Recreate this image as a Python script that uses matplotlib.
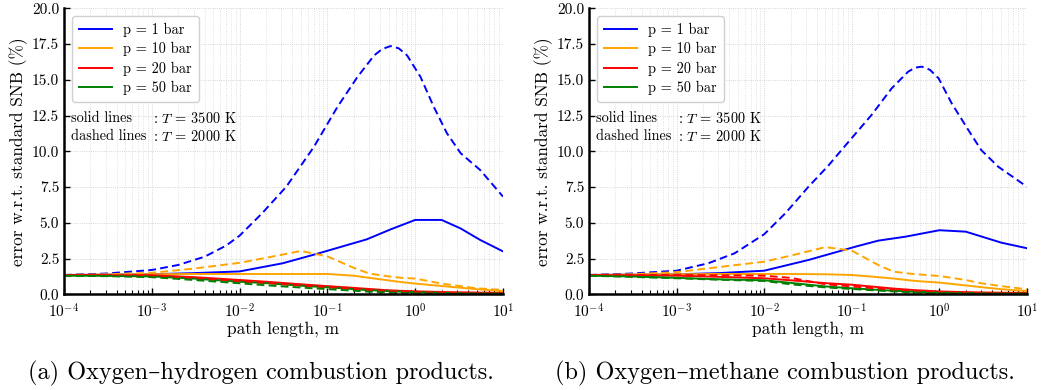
import numpy as np
import matplotlib
matplotlib.use("Agg")
from matplotlib import pyplot as plt
from matplotlib.ticker import LogLocator, MultipleLocator, FormatStrFormatter

plt.rcParams['font.family'] = ['cmr10', 'DejaVu Serif']
plt.rcParams['mathtext.fontset'] = 'cm'
plt.rcParams['axes.formatter.use_mathtext'] = True
plt.rcParams['axes.unicode_minus'] = False

# common path length grid (m)
L = [1e-4, 3e-4, 1e-3, 3e-3, 1e-2, 2e-2, 5e-2, 1e-1, 2e-1, 3e-1, 5e-1, 7e-1, 1, 2, 3, 5, 10]

pressures = ["p = 1 bar", "p = 10 bar", "p = 20 bar", "p = 50 bar"]
colors = ["blue", "orange", "red", "green"]

# ---- (a) oxygen-hydrogen ----
# p = 1 bar curves read on their own grids
h2_x_1bar_3500 = [1e-4, 1e-3, 3e-3, 1e-2, 3.1e-2, 7.5e-2, 0.28, 0.525, 1.0, 2.0, 3.3, 5.5, 10]
h2_y_1bar_3500 = [1.35, 1.4, 1.48, 1.6, 2.17, 2.82, 3.84, 4.54, 5.2, 5.2, 4.6, 3.8, 3.0]
h2_x_1bar_2000 = [1e-4, 3e-4, 1e-3, 2e-3, 4e-3, 7e-3, 1e-2, 1.8e-2, 3.4e-2, 7e-2, 0.13,
                  0.22, 0.34, 0.42, 0.525, 0.65, 0.81, 1.15, 1.63, 2.3, 3.3, 5.5, 10]
h2_y_1bar_2000 = [1.35, 1.45, 1.7, 2.05, 2.63, 3.4, 4.1, 5.66, 7.52, 10.3, 13.1,
                  15.2, 16.7, 17.15, 17.36, 17.2, 16.7, 15.2, 13.1, 11.26, 9.86, 8.69, 6.83]
# p = 10, 20, 50 bar on grid L, T = 3500 K (solid)
h2_3500 = [
    [1.35, 1.38, 1.4, 1.42, 1.42, 1.42, 1.42, 1.42, 1.3, 1.15, 0.97, 0.85, 0.75, 0.58, 0.48, 0.36, 0.23],
    [1.35, 1.35, 1.33, 1.2, 1.0, 0.88, 0.7, 0.57, 0.45, 0.37, 0.28, 0.24, 0.21, 0.16, 0.14, 0.12, 0.1],
    [1.3, 1.29, 1.25, 1.1, 0.88, 0.78, 0.6, 0.49, 0.36, 0.29, 0.22, 0.18, 0.15, 0.1, 0.08, 0.06, 0.05],
]
# p = 10, 20, 50 bar on grid L, T = 2000 K (dashed)
h2_2000 = [
    [1.35, 1.4, 1.5, 1.8, 2.2, 2.55, 3.03, 2.65, 1.85, 1.45, 1.25, 1.15, 1.1, 0.75, 0.6, 0.42, 0.3],
    [1.35, 1.34, 1.3, 1.15, 0.92, 0.8, 0.62, 0.5, 0.38, 0.3, 0.22, 0.18, 0.15, 0.1, 0.08, 0.06, 0.05],
    [1.3, 1.27, 1.2, 1.0, 0.77, 0.63, 0.47, 0.36, 0.25, 0.18, 0.12, 0.09, 0.07, 0.04, 0.03, 0.02, 0.02],
]

# ---- (b) oxygen-methane ----
ch4_x_1bar_3500 = [1e-4, 1e-3, 3e-3, 1e-2, 3.2e-2, 0.11, 0.2, 0.41, 1.0, 2.0, 5.1, 10]
ch4_y_1bar_3500 = [1.35, 1.4, 1.48, 1.65, 2.4, 3.33, 3.75, 4.03, 4.48, 4.38, 3.61, 3.22]
ch4_x_1bar_2000 = [1e-4, 3e-4, 1e-3, 2.3e-3, 4.6e-3, 1e-2, 1.74e-2, 3.2e-2, 5.4e-2, 8.3e-2, 0.168,
                   0.285, 0.44, 0.53, 0.63, 0.78, 0.98, 1.38, 2.14, 3.0, 4.7, 10]
ch4_y_1bar_2000 = [1.35, 1.45, 1.65, 2.17, 2.87, 4.2, 5.66, 7.52, 9.0, 10.35, 12.54,
                   14.4, 15.57, 15.85, 15.92, 15.7, 15.1, 13.36, 11.49, 10.09, 8.92, 7.52]
ch4_3500 = [
    [1.35, 1.38, 1.4, 1.42, 1.42, 1.42, 1.4, 1.35, 1.2, 1.1, 0.95, 0.88, 0.82, 0.62, 0.5, 0.36, 0.23],
    [1.35, 1.33, 1.3, 1.22, 1.12, 0.98, 0.78, 0.67, 0.5, 0.4, 0.3, 0.25, 0.2, 0.15, 0.13, 0.11, 0.1],
    [1.3, 1.25, 1.15, 1.05, 0.98, 0.8, 0.55, 0.42, 0.31, 0.25, 0.18, 0.15, 0.12, 0.09, 0.07, 0.06, 0.05],
]
ch4_2000 = [
    [1.35, 1.4, 1.55, 1.9, 2.28, 2.7, 3.3, 3.05, 2.05, 1.58, 1.42, 1.35, 1.28, 1.0, 0.77, 0.58, 0.35],
    [1.35, 1.35, 1.35, 1.33, 1.3, 1.15, 0.7, 0.55, 0.4, 0.3, 0.22, 0.18, 0.15, 0.1, 0.08, 0.06, 0.05],
    [1.3, 1.22, 1.12, 1.02, 0.93, 0.7, 0.48, 0.37, 0.26, 0.2, 0.13, 0.1, 0.08, 0.05, 0.03, 0.02, 0.02],
]

captions = ["(a) Oxygen\u2013hydrogen combustion products.",
            "(b) Oxygen\u2013methane combustion products."]

panels = [
    (h2_x_1bar_3500, h2_y_1bar_3500, h2_x_1bar_2000, h2_y_1bar_2000, h2_3500, h2_2000, captions[0]),
    (ch4_x_1bar_3500, ch4_y_1bar_3500, ch4_x_1bar_2000, ch4_y_1bar_2000, ch4_3500, ch4_2000, captions[1]),
]

fig = plt.figure(figsize=(10.44, 3.9), dpi=100)
ax1 = fig.add_axes([0.0613, 0.2454, 0.4205, 0.7333])
ax2 = fig.add_axes([0.5642, 0.2454, 0.4195, 0.7333])

dash = (0, (4, 2.2))
lw = 1.4
for ax, (xs, ys, xd, yd, solid, dashed, cap) in zip([ax1, ax2], panels):
    ax.plot(xs, ys, color=colors[0], lw=lw, label=pressures[0])
    for i in range(3):
        ax.plot(L, solid[i], color=colors[i + 1], lw=lw, label=pressures[i + 1])
    ax.plot(xd, yd, color=colors[0], lw=lw, ls=dash)
    for i in range(3):
        ax.plot(L, dashed[i], color=colors[i + 1], lw=lw, ls=dash)
    ax.set_xscale('log')
    ax.set_xlim(1e-4, 10)
    ax.set_ylim(0, 20)
    ax.yaxis.set_major_locator(MultipleLocator(2.5))
    ax.yaxis.set_major_formatter(FormatStrFormatter('%.1f'))
    ax.xaxis.set_minor_locator(LogLocator(base=10, subs=np.arange(2, 10), numticks=20))
    ax.grid(True, which='major', ls=':', lw=0.6, color='#c8c8c8')
    ax.grid(True, which='minor', axis='x', ls=':', lw=0.6, color='#d8d8d8')
    for s in ['top', 'right']:
        ax.spines[s].set_visible(False)
    for s in ['left', 'bottom']:
        ax.spines[s].set_linewidth(1.8)
    ax.tick_params(which='both', direction='in', labelsize=11, top=False, right=False)
    ax.tick_params(which='major', length=4.5, width=1)
    ax.tick_params(axis='x', which='major', pad=6)
    ax.tick_params(which='minor', length=3, width=0.8)
    ax.set_xlabel("path length, m", fontsize=12.4, labelpad=0)
    ax.set_ylabel("error w.r.t. standard SNB (%)", fontsize=12.4, labelpad=3)
    ax.legend(loc='upper left', fontsize=10.3, handlelength=2.33, handletextpad=0.8,
              borderpad=0.47, labelspacing=0.35, framealpha=1, edgecolor='#d0d0d0',
              borderaxespad=0.55)
    ax.text(0.016, 0.615, "solid lines", transform=ax.transAxes, fontsize=10.3, va='center')
    ax.text(0.016, 0.553, "dashed lines", transform=ax.transAxes, fontsize=10.3, va='center')
    ax.text(0.203, 0.615, ": $T$ = 3500 K", transform=ax.transAxes, fontsize=10.3, va='center')
    ax.text(0.203, 0.553, ": $T$ = 2000 K", transform=ax.transAxes, fontsize=10.3, va='center')
    ax.text(0.448, -0.275, cap, transform=ax.transAxes, ha='center', va='center', fontsize=17.5)

fig.savefig("out.png", dpi=100)
